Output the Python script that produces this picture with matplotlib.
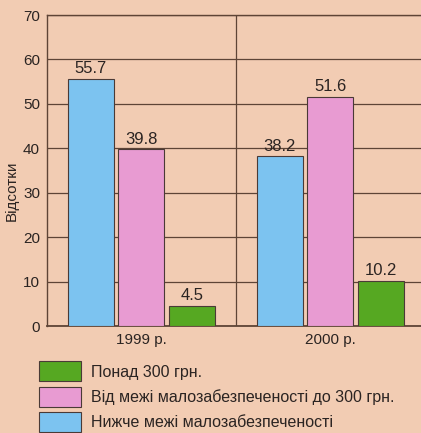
import matplotlib.pyplot as plt
import numpy as np

plt.rcParams['font.family'] = ['Liberation Sans', 'DejaVu Sans']

years = ['1999 р.', '2000 р.']
below = [55.7, 38.2]
middle = [39.8, 51.6]
above = [4.5, 10.2]
labels = ['Нижче межі малозабезпеченості',
          'Від межі малозабезпеченості до 300 грн.',
          'Понад 300 грн.']
colors = ['#7cc3f0', '#e89bd2', '#56a822']

bg = '#f2ccb3'
line_col = '#5e4436'
text_col = '#2b2422'

fig = plt.figure(figsize=(4.21, 4.33), dpi=100, facecolor=bg)
ax = fig.add_axes([47 / 421, 1 - 326 / 433, 1 - 47 / 421, (326 - 15) / 433])
ax.set_facecolor(bg)

x = np.arange(len(years))
step = 0.267
width = 0.243
series = [below, middle, above]
bars = []
for i, (vals, col) in enumerate(zip(series, colors)):
    b = ax.bar(x + (i - 1) * step, vals, width, color=col,
               edgecolor='#4a3a36', linewidth=0.8, zorder=3)
    bars.append(b)
    for rect, v in zip(b, vals):
        ax.text(rect.get_x() + rect.get_width() / 2, v + 0.6, f'{v}',
                ha='center', va='bottom', fontsize=12, color=text_col, zorder=4)

ax.set_xlim(-0.5, 1.48)
ax.set_ylim(0, 70)
ax.set_yticks(range(0, 71, 10))
ax.set_xticks(x)
ax.set_xticklabels(years)
ax.tick_params(axis='both', length=0, labelsize=11, colors=text_col)
ax.tick_params(axis='x', pad=5)
ax.tick_params(axis='y', pad=5)
ax.yaxis.grid(True, color=line_col, linewidth=0.9, zorder=1)
ax.axvline(0.5, color=line_col, linewidth=0.9, zorder=1)
ax.set_axisbelow(True)
for s in ['left', 'bottom', 'top']:
    ax.spines[s].set_color(line_col)
    ax.spines[s].set_linewidth(1.0)
ax.spines['bottom'].set_linewidth(1.3)
ax.spines['right'].set_visible(False)

ax.set_ylabel('Відсотки', fontsize=11, color=text_col)
ax.yaxis.set_label_coords(-0.075, 0.435)

handles = [bars[2][0], bars[1][0], bars[0][0]]
leg_labels = [labels[2], labels[1], labels[0]]
fig.legend(handles, leg_labels, loc='upper left',
           bbox_to_anchor=(25 / 421, 1 - 347 / 433), frameon=False,
           fontsize=11.5, handlelength=2.6, handleheight=1.55,
           labelspacing=0.33, handletextpad=0.65, labelcolor=text_col)

fig.savefig('out.png', dpi=100, facecolor=bg)
